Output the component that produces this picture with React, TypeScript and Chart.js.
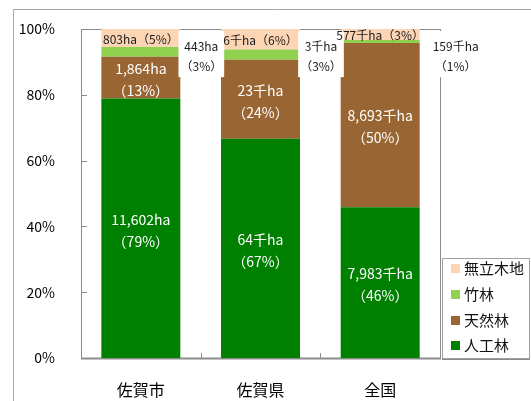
import React, { useEffect, useRef } from "react";
import { Chart, registerables } from "chart.js";

Chart.register(...registerables);

// ---- data ----
const categories = ["佐賀市", "佐賀県", "全国"];
const seriesNames = ["人工林", "天然林", "竹林", "無立木地"];
const plantedValues = [11602, 64, 7983];
const naturalValues = [1864, 23, 8693];
const bambooValues = [443, 3, 159];
const barrenValues = [803, 6, 577];
const units = ["ha", "千ha", "千ha"];
const yTicks = [0, 20, 40, 60, 80, 100];

// ---- styles ----
const seriesColors = ["#008000", "#996633", "#92D050", "#FCD5B4"];
const FONT = "'Noto Sans CJK JP', 'Noto Sans', sans-serif";
const AXIS_GRAY = "#8c8c8c";

export default function App() {
  const ref = useRef<HTMLCanvasElement>(null);

  useEffect(() => {
    if (!ref.current) return;
    const series = [plantedValues, naturalValues, bambooValues, barrenValues];
    const totals = categories.map((_, i) => series.reduce((s, arr) => s + arr[i], 0));
    const pct = (arr: number[]) => arr.map((v, i) => (v / totals[i]) * 100);
    const fmt = (v: number) => v.toLocaleString("en-US");

    const datasets = series.map((arr, k) => ({
      label: seriesNames[k],
      data: pct(arr),
      backgroundColor: seriesColors[k],
      borderWidth: 0,
      barPercentage: 0.66,
      categoryPercentage: 1,
    }));

    const bambooDx = [21, 21, 36];

    const decor = {
      id: "decor",
      beforeDraw(chart: any) {
        const ctx = chart.ctx;
        ctx.save();
        ctx.strokeStyle = "#a6a6a6";
        ctx.lineWidth = 1;
        ctx.beginPath();
        ctx.moveTo(13.5, 401);
        ctx.lineTo(13.5, 9.5);
        ctx.lineTo(531, 9.5);
        ctx.stroke();
        ctx.restore();
      },
      beforeDatasetsDraw(chart: any) {
        const ctx = chart.ctx;
        const a = chart.chartArea;
        const ys = chart.scales.y;
        const xs = chart.scales.x;
        ctx.save();
        ctx.strokeStyle = AXIS_GRAY;
        ctx.lineWidth = 1;
        ctx.strokeRect(Math.round(a.left) + 0.5, Math.round(a.top) + 0.5, Math.round(a.right - a.left), Math.round(a.bottom - a.top));
        // y ticks inside
        ctx.beginPath();
        yTicks.forEach((v) => {
          const py = Math.round(ys.getPixelForValue(v)) + 0.5;
          ctx.moveTo(a.left, py);
          ctx.lineTo(a.left + 6, py);
        });
        // category ticks inside
        for (let i = 1; i < categories.length; i++) {
          const px = Math.round((xs.getPixelForValue(i - 1) + xs.getPixelForValue(i)) / 2) + 0.5;
          ctx.moveTo(px, a.bottom);
          ctx.lineTo(px, a.bottom - 5);
        }
        ctx.stroke();
        // bottom axis thicker
        ctx.lineWidth = 2;
        ctx.beginPath();
        ctx.moveTo(a.left, Math.round(a.bottom) + 0.5);
        ctx.lineTo(a.right + 1, Math.round(a.bottom) + 0.5);
        ctx.stroke();
        ctx.restore();
      },
      afterDatasetsDraw(chart: any) {
        const ctx = chart.ctx;
        const ys = chart.scales.y;
        ctx.save();
        ctx.textAlign = "center";
        ctx.textBaseline = "middle";
        categories.forEach((_, i) => {
          const bar = (d: number) => chart.getDatasetMeta(d).data[i].getProps(["x", "y", "base", "width"], true);
          const label = (d: number) => fmt(series[d][i]) + units[i];
          const pl = (d: number) => "（" + Math.round((series[d][i] / totals[i]) * 100) + "%）";
          // planted & natural: two white lines
          [0, 1].forEach((d) => {
            const b = bar(d);
            const cy = (b.y + b.base) / 2 + 2;
            ctx.fillStyle = "#ffffff";
            ctx.font = `14px ${FONT}`;
            ctx.fillText(label(d), b.x, cy - 11);
            ctx.fillText(pl(d), b.x, cy + 11);
          });
          // barren: single line inside
          {
            const b = bar(3);
            const cy = (b.y + b.base) / 2 + 1;
            ctx.fillStyle = "#1a1a1a";
            ctx.font = `12px ${FONT}`;
            ctx.fillText(label(3) + pl(3), b.x, cy);
          }
          // bamboo: outside right with white background
          {
            const b = bar(2);
            const cx = b.x + b.width / 2 + bambooDx[i];
            const y1 = ys.getPixelForValue(94.8);
            const y2 = y1 + 20;
            ctx.font = `12px ${FONT}`;
            const w = Math.max(ctx.measureText(label(2)).width, ctx.measureText(pl(2)).width) + 4;
            ctx.fillStyle = "#ffffff";
            ctx.fillRect(cx - w / 2, y1 - 15, w, y2 - y1 + 26);
            ctx.fillStyle = "#1a1a1a";
            ctx.fillText(label(2), cx, y1);
            ctx.fillText(pl(2), cx, y2);
          }
        });
        // legend
        ctx.fillStyle = "#ffffff";
        ctx.fillRect(442, 258, 87, 101);
        ctx.strokeStyle = "#a0a0a0";
        ctx.lineWidth = 1;
        ctx.strokeRect(442.5, 258.5, 87, 100);
        ctx.strokeStyle = "#8a8a8a";
        ctx.beginPath();
        ctx.moveTo(442, 359.5);
        ctx.lineTo(530, 359.5);
        ctx.stroke();
        const order = [3, 2, 1, 0];
        const ly = [268, 294, 320, 345];
        ctx.textAlign = "left";
        ctx.font = `15px ${FONT}`;
        order.forEach((d, k) => {
          ctx.fillStyle = seriesColors[d];
          ctx.fillRect(451, ly[k] - 4, 9, 9);
          ctx.fillStyle = "#111111";
          ctx.fillText(seriesNames[d], 464, ly[k]);
        });
        ctx.restore();
      },
    };

    const chart = new Chart(ref.current, {
      type: "bar",
      data: { labels: categories, datasets },
      options: {
        responsive: false,
        animation: false,
        layout: { padding: { top: 29, right: 91, left: 0, bottom: 0 } },
        plugins: { legend: { display: false }, tooltip: { enabled: false }, title: { display: false } },
        scales: {
          x: {
            stacked: true,
            grid: { display: false },
            border: { display: false },
            ticks: { font: { size: 16, family: FONT }, color: "#000", padding: 14 },
            afterFit: (s: any) => {
              s.height = 43;
            },
          },
          y: {
            stacked: true,
            min: 0,
            max: 100,
            grid: { display: false },
            border: { display: false },
            ticks: {
              font: { size: 14, family: FONT },
              color: "#000",
              padding: 18,
              callback: (v: any) => v + "%",
            },
            afterBuildTicks: (s: any) => {
              s.ticks = yTicks.map((v) => ({ value: v }));
            },
            afterFit: (s: any) => {
              s.width = 81;
            },
          },
        },
      },
      plugins: [decor],
    });
    return () => chart.destroy();
  }, []);

  return (
    <div style={{ position: "absolute", left: 0, top: 0, width: 531, height: 401, background: "#fff" }}>
      <canvas ref={ref} width={531} height={401} style={{ display: "block" }} />
    </div>
  );
}
